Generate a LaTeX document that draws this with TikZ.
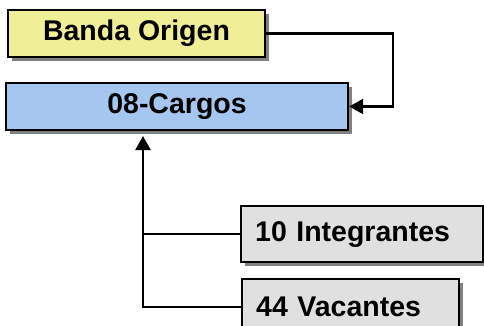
\documentclass[tikz,border=0pt]{standalone}
\usepackage{fontspec}
\setmainfont{Liberation Sans}
\usetikzlibrary{arrows.meta,calc,shadows}
\definecolor{yel}{RGB}{240,238,150}
\definecolor{blu}{RGB}{165,198,238}
\definecolor{gry}{RGB}{224,224,224}
\definecolor{shd}{RGB}{128,128,128}
\tikzset{
  x=1pt,y=1pt,
  box/.style={draw=black,line width=2.4pt,inner sep=0pt,font=\bfseries\fontsize{28.5}{28.5}\selectfont,
    drop shadow={shadow xshift=4pt,shadow yshift=-4pt,fill=shd,opacity=1}},
  lbox/.style={box,align=left,inner xsep=14pt},
  conn/.style={line width=2.2pt,draw=black},
  arr/.style={conn,-{Triangle[width=15pt,length=14pt]}}
}
\begin{document}
\begin{tikzpicture}
\useasboundingbox (0,0) rectangle (484,-326);
\node[box,fill=yel,minimum width=257pt,minimum height=47pt] (banda) at (136.5,-33.5) {Banda Origen};
\node[box,fill=blu,minimum width=342pt,minimum height=47pt] (cargos) at (177,-106.5) {08-Cargos};
\node[lbox,fill=gry,text width=214pt,minimum height=56pt,anchor=north west] (int) at (240,-205) {10 Integrantes};
\node[lbox,fill=gry,text width=189pt,minimum height=56pt,anchor=north west] (vac) at (241,-278) {44 Vacantes};
\coordinate (up) at (143,-136);
\coordinate (turn) at (393,-33.5);
\draw[arr] (banda.east) -- (turn) |- (cargos.east);
\draw[arr] (vac.west) -| (up);
\draw[conn] (int.west) -- (int.west -| up);
\end{tikzpicture}
\end{document}
